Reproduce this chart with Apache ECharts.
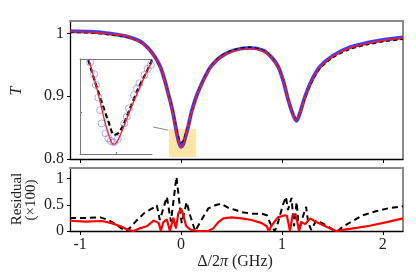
<!DOCTYPE html>
<html><head><meta charset="utf-8">
<script src="https://cdn.jsdelivr.net/npm/echarts@6/dist/echarts.min.js"></script>
<style>html,body{margin:0;padding:0;background:#fff}#c{width:416px;height:277px}</style>
</head><body><div id="c"></div>
<script>
// ---- Transmission panel (Δ/2π in GHz) ----
const xT = [-1.1,-0.9,-0.7,-0.55,-0.47,-0.4,-0.34,-0.29,-0.24,-0.2,
  -0.175,-0.15,-0.126,-0.1,-0.08,-0.06,-0.04,-0.02,0,0.02,
  0.04,0.07,0.106,0.155,0.205,0.254,0.29,0.386,0.518,0.683,
  0.815,0.898,0.964,1.013,1.063,1.112,1.145,1.178,1.228,1.294,
  1.376,1.508,1.673,1.838,2.003,2.2];
const tData = [1.004,1.003,1.0,0.996,0.992,0.987,0.979,0.970,0.958,0.945,
  0.933,0.919,0.904,0.888,0.874,0.857,0.840,0.826,0.8195,0.823,
  0.833,0.851,0.876,0.901,0.920,0.936,0.946,0.962,0.973,0.977,
  0.973,0.962,0.947,0.925,0.894,0.870,0.861,0.873,0.899,0.925,
  0.947,0.965,0.978,0.985,0.990,0.994];
const tRed = [1.003,1.002,0.999,0.996,0.991,0.986,0.978,0.969,0.957,0.944,
  0.932,0.918,0.903,0.887,0.873,0.856,0.839,0.825,0.818,0.822,
  0.833,0.851,0.875,0.900,0.919,0.935,0.945,0.962,0.972,0.976,
  0.972,0.961,0.946,0.924,0.894,0.870,0.862,0.873,0.898,0.924,
  0.946,0.964,0.977,0.984,0.989,0.993];
const tBlack = [1.002,1.001,0.998,0.995,0.991,0.986,0.978,0.969,0.957,0.944,
  0.932,0.918,0.904,0.889,0.876,0.860,0.845,0.832,0.826,0.829,
  0.837,0.852,0.875,0.900,0.920,0.936,0.946,0.963,0.974,0.978,
  0.973,0.962,0.946,0.924,0.894,0.871,0.863,0.873,0.897,0.922,
  0.944,0.962,0.975,0.982,0.987,0.991];

// ---- Residual panel (×100) ----
const resBlackX = [-1.1,-0.95,-0.8,-0.72,-0.65,-0.59,-0.55,-0.5,-0.45,-0.36,
  -0.26,-0.24,-0.21,-0.14,-0.10,-0.045,0.007,0.056,0.09,0.14,
  0.2,0.27,0.34,0.40,0.47,0.54,0.6,0.7,0.8,0.85,
  0.9,0.93,0.96,1.01,1.04,1.06,1.095,1.12,1.146,1.17,
  1.195,1.24,1.26,1.29,1.34,1.41,1.51,1.555,1.6,1.71,
  1.8,1.94,2.07,2.2];
const resBlackY = [0.25,0.25,0.26,0.21,0.13,0.05,0.0,0.07,0.18,0.35,
  0.46,0.49,0.21,0.65,0.18,1.03,0.15,0.55,0.3,0.0,
  0.2,0.43,0.49,0.52,0.44,0.4,0.36,0.33,0.33,0.3,
  0.08,0.0,0.15,0.5,0.65,0.4,0.63,0.09,0.55,0.0,
  0.2,0.46,0.17,0.02,0.2,0.14,0.02,0.0,0.08,0.2,
  0.3,0.38,0.44,0.47];
const resRedX = [-1.1,-0.95,-0.785,-0.69,-0.6,-0.52,-0.47,-0.41,-0.34,-0.27,
  -0.22,-0.2,-0.175,-0.14,-0.11,-0.076,-0.05,-0.027,0.0,0.023,
  0.05,0.07,0.1,0.17,0.27,0.32,0.37,0.42,0.5,0.6,
  0.7,0.8,0.85,0.87,0.9,0.96,1.03,1.05,1.08,1.106,
  1.14,1.17,1.195,1.23,1.28,1.33,1.41,1.475,1.54,1.6,
  1.74,1.87,2.04,2.2];
const resRedY = [0.195,0.18,0.19,0.15,0.09,0.02,0.0,0.05,0.09,0.2,
  0.15,0.0,0.17,0.22,0.0,0.25,0.05,0.33,0.43,0.3,
  0.1,0.06,0.02,0.0,0.0,0.05,0.17,0.24,0.26,0.24,
  0.21,0.15,0.09,0.0,0.11,0.26,0.3,0.29,0.0,0.3,
  0.3,0.0,0.17,0.13,0.24,0.18,0.11,0.05,0.0,0.02,
  0.06,0.1,0.17,0.24];

// ---- Inset (zoom on first dip) ----
const insetRedX = [-0.075,-0.058,-0.044,-0.031,-0.017,-0.0075,0.002,0.016,0.034,0.053,0.071,0.090,0.1];
const insetRedY = [0.8595,0.8492,0.8398,0.8303,0.8224,0.8196,0.8205,0.8256,0.8335,0.8414,0.8485,0.8556,0.8585];
const insetBlackX = [-0.077,-0.058,-0.04,-0.021,-0.005,0.006,0.020,0.039,0.062,0.085,0.1];
const insetBlackY = [0.8595,0.849,0.8398,0.8303,0.824,0.8248,0.8287,0.8366,0.8461,0.854,0.8595];
const insetDataX = [-0.072,-0.061,-0.056,-0.049,-0.044,-0.040,-0.029,-0.021,-0.015,-0.006,
  0.005,0.023,0.030,0.036,0.050,0.058,0.065,0.079,0.088,0.097];
const insetDataY = [0.8584,0.8528,0.8477,0.8417,0.8358,0.8295,0.8248,0.8224,0.8212,0.8205,
  0.8221,0.8295,0.8327,0.8366,0.8429,0.8461,0.8485,0.8524,0.8553,0.8572];

// ---- ticks and annotations ----
const xTicks = [-1,0,1,2];
const tTicks = [0.8,0.9,1];
const resTicks = [0,0.5,1];
const insetXTicks = [0];
const insetYTicks = [0.835];
const highlightX = [-0.12,0.15];
const highlightY = [0.803,0.848];
const connectorX = [-0.277,-0.126];
const connectorY = [0.851,0.846];

const zip = (a,b) => a.map((v,i)=>[v,b[i]]);
const FONT = 'Liberation Serif';
const GRAY = '#8a8a8a';

function mainX(grid, showLabels){
  return {type:'value', gridIndex:grid, position:'bottom', min:-1.1, max:2.2,
    axisLine:{show:true, onZero:false, lineStyle:{color:'#000', width:1.3}},
    axisTick:{show:true, inside:false, length:4, customValues:xTicks, lineStyle:{color:'#000', width:1}},
    axisLabel:{show:showLabels, customValues:xTicks, margin:6, color:'#222', fontFamily:FONT, fontSize:16},
    splitLine:{show:false}};
}
function grayX(grid, min, max, color, w){
  return {type:'value', gridIndex:grid, position:'top', min:min, max:max,
    axisLine:{show:true, onZero:false, lineStyle:{color:color||GRAY, width:w||2}},
    axisTick:{show:false}, axisLabel:{show:false}, splitLine:{show:false}};
}
function grayY(grid, min, max){
  return {type:'value', gridIndex:grid, position:'right', min:min, max:max,
    axisLine:{show:true, onZero:false, lineStyle:{color:GRAY, width:2}},
    axisTick:{show:false}, axisLabel:{show:false}, splitLine:{show:false}};
}
function mainY(grid, min, max, ticks){
  return {type:'value', gridIndex:grid, position:'left', min:min, max:max,
    axisLine:{show:true, onZero:false, lineStyle:{color:'#000', width:1.3}},
    axisTick:{show:true, inside:false, length:3, customValues:ticks, lineStyle:{color:'#000', width:1}},
    axisLabel:{show:true, customValues:ticks, margin:6, color:'#222', fontFamily:FONT, fontSize:16},
    splitLine:{show:false}};
}

const chart = echarts.init(document.getElementById('c'), null, {renderer:'canvas'});
chart.setOption({
  animation:false,
  backgroundColor:'#fff',
  grid:[
    {left:70, top:21, width:333, height:138},
    {left:70, top:168, width:333, height:63},
    {left:80, top:59, width:72, height:95}
  ],
  xAxis:[
    mainX(0,false),
    grayX(0,-1.1,2.2),
    mainX(1,true),
    grayX(1,-1.1,2.2),
    {type:'value', gridIndex:2, position:'bottom', min:-0.1, max:0.1,
      axisLine:{show:true, onZero:false, lineStyle:{color:'#777', width:1}},
      axisTick:{show:true, inside:true, length:2, customValues:insetXTicks, lineStyle:{color:'#777'}},
      axisLabel:{show:false}, splitLine:{show:false}},
    grayX(2,-0.1,0.1,'#777',1)
  ],
  yAxis:[
    mainY(0,0.8,1.02,tTicks),
    grayY(0,0.8,1.02),
    mainY(1,0,1.2,resTicks),
    grayY(1,0,1.2),
    {type:'value', gridIndex:2, position:'left', min:0.815, max:0.86,
      axisLine:{show:true, onZero:false, lineStyle:{color:'#777', width:1}},
      axisTick:{show:true, inside:true, length:2, customValues:insetYTicks, lineStyle:{color:'#777'}},
      axisLabel:{show:false}, splitLine:{show:false}}
  ],
  series:[
    {name:'data', type:'line', xAxisIndex:0, yAxisIndex:0, data:zip(xT,tData),
      smooth:0.3, showSymbol:false, z:2,
      lineStyle:{color:'#3d3dff', width:3.8},
      markArea:{silent:true, itemStyle:{color:'#fde5a6'},
        data:[[{xAxis:highlightX[0], yAxis:highlightY[0]},{xAxis:highlightX[1], yAxis:highlightY[1]}]]},
      markLine:{silent:true, symbol:['none','none'], label:{show:false},
        lineStyle:{color:'#888', width:1, type:'solid'},
        data:[[{coord:[connectorX[0],connectorY[0]]},{coord:[connectorX[1],connectorY[1]]}]]}},
    {name:'fitBlack', type:'line', xAxisIndex:0, yAxisIndex:0, data:zip(xT,tBlack),
      smooth:0.3, showSymbol:false, z:3,
      lineStyle:{color:'#111', width:1.6, type:[4,3]}},
    {name:'fitRed', type:'line', xAxisIndex:0, yAxisIndex:0, data:zip(xT,tRed),
      smooth:0.3, showSymbol:false, z:4,
      lineStyle:{color:'#ff1a1a', width:1.4}},
    {name:'resBlack', type:'line', xAxisIndex:2, yAxisIndex:2, data:zip(resBlackX,resBlackY),
      showSymbol:false, z:3, lineStyle:{color:'#000', width:2, type:[6,4]}},
    {name:'resRed', type:'line', xAxisIndex:2, yAxisIndex:2, data:zip(resRedX,resRedY),
      showSymbol:false, z:4, lineStyle:{color:'#ff0000', width:2.2}},
    {name:'insetBlack', type:'line', xAxisIndex:4, yAxisIndex:4, data:zip(insetBlackX,insetBlackY),
      smooth:0.3, showSymbol:false, z:3, lineStyle:{color:'#000', width:2.2, type:[5,3]}},
    {name:'insetData', type:'scatter', xAxisIndex:4, yAxisIndex:4, data:zip(insetDataX,insetDataY),
      symbol:'circle', symbolSize:7, z:4, clip:false,
      itemStyle:{color:'rgba(0,0,0,0)', borderColor:'#7a7aff', borderWidth:0.8}},
    {name:'insetRed', type:'line', xAxisIndex:4, yAxisIndex:4, data:zip(insetRedX,insetRedY),
      smooth:0.3, showSymbol:false, z:5, lineStyle:{color:'#ff1a1a', width:1.3}}
  ],
  graphic:[
    {type:'text', x:17, y:91, rotation:Math.PI/2,
      style:{text:'T', font:'italic 16px "Liberation Serif"', fill:'#222', textAlign:'center', textVerticalAlign:'middle'}},
    {type:'text', x:17, y:199, rotation:Math.PI/2,
      style:{text:'Residual', font:'15px "Liberation Serif"', fill:'#222', textAlign:'center', textVerticalAlign:'middle'}},
    {type:'text', x:31, y:200, rotation:Math.PI/2,
      style:{text:'(×100)', font:'15px "Liberation Serif"', fill:'#222', textAlign:'center', textVerticalAlign:'middle'}},
    {type:'text', x:235, y:262,
      style:{text:'{a|Δ/2}{b|π}{a| (GHz)}', textAlign:'center', textVerticalAlign:'middle', fill:'#222',
        rich:{a:{fontFamily:FONT, fontSize:16, fill:'#222'}, b:{fontFamily:FONT, fontSize:16, fontStyle:'italic', fill:'#222'}}}}
  ]
});
</script></body></html>
